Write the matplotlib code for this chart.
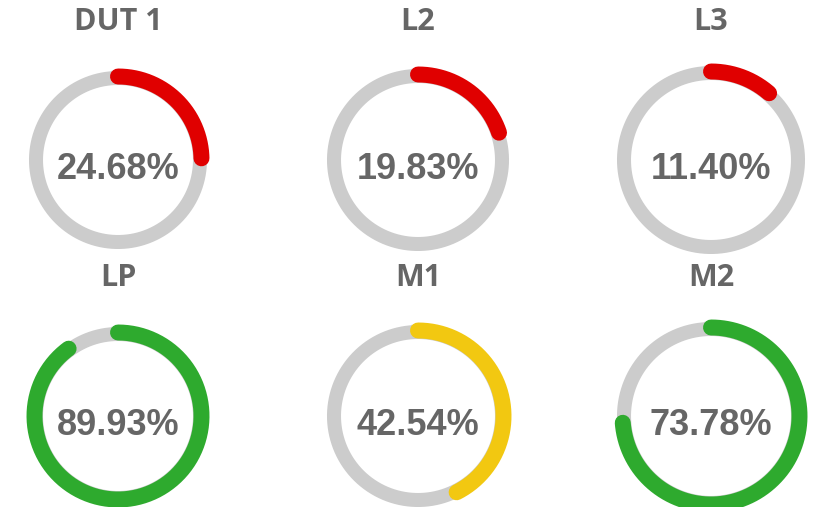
import numpy as np
import matplotlib
matplotlib.use("Agg")
import matplotlib.pyplot as plt

# datos
nombres = ["DUT 1", "L2", "L3", "LP", "M1", "M2"]
valores = [24.68, 19.83, 11.40, 89.93, 42.54, 73.78]
colores = ["#E00000", "#E00000", "#E00000", "#2EAA2E", "#F2C811", "#2EAA2E"]

W, H = 816, 507
fig = plt.figure(figsize=(W / 100, H / 100), dpi=100)
fig.patch.set_facecolor("white")

# layout en pixeles
centros_x = [118, 418, 711]
centros_y = [160, 416]
radio_ext = [89, 91, 94]
S = 110
gris_texto = "#666666"

for i, (nombre, valor, color) in enumerate(zip(nombres, valores, colores)):
    fila, col = divmod(i, 3)
    cx, cy = centros_x[col], centros_y[fila]
    R = radio_ext[col]

    ax = fig.add_axes(
        [(cx - S) / W, 1 - (cy + S) / H, 2 * S / W, 2 * S / H],
        projection="polar",
    )
    ax.set_theta_zero_location("N")
    ax.set_theta_direction(-1)
    ax.set_ylim(0, S)
    ax.set_facecolor("none")
    ax.axis("off")

    # pista gris
    t = np.linspace(0, 2 * np.pi, 400)
    ax.plot(t, np.full_like(t, R - 7), color="#CCCCCC", linewidth=10.1)

    # arco del valor
    t = np.linspace(0, 2 * np.pi * valor / 100, 400)
    ax.plot(t, np.full_like(t, R - 5.5), color=color, linewidth=11.5,
            solid_capstyle="round")

    # textos
    fig.text(cx / W, 1 - (cy - 138) / H, nombre, ha="center", va="center",
             fontsize=22, fontweight="bold", family="Open Sans", color=gris_texto)
    fig.text(cx / W, 1 - (cy + 19) / H, f"{valor:.2f}%", ha="center",
             va="baseline", fontsize=26, fontweight="bold",
             family="Liberation Sans", color=gris_texto)

fig.savefig("out.png", dpi=100)
plt.close(fig)
